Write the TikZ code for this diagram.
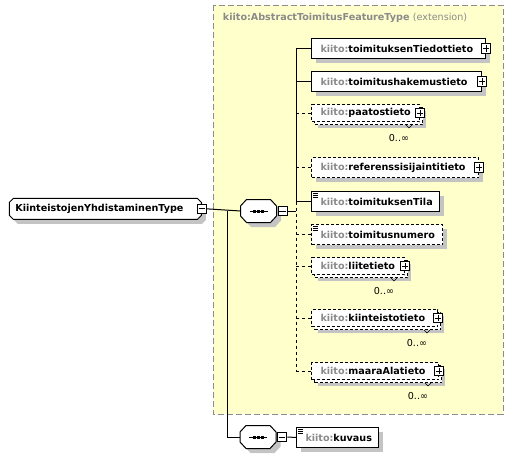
\documentclass[tikz,border=0pt]{standalone}
\usepackage{fontspec}
\setmainfont{DejaVu Sans}
\usetikzlibrary{positioning,calc,shapes.misc,shadows}
\definecolor{extfill}{HTML}{FFFFCC}
\definecolor{extline}{HTML}{8C8C8C}
\definecolor{shadowgray}{HTML}{C4C4C4}
\definecolor{prefixgray}{HTML}{8A8A8A}
\newcommand{\pfx}{\textcolor{prefixgray}{kiito:}}

\tikzset{
  every node/.style={font=\fontsize{7.2}{8.6}\selectfont\bfseries},
  shade/.style={drop shadow={shadow xshift=3.4pt,shadow yshift=-3.4pt,fill=shadowgray,opacity=1}},
  basebox/.style={draw, fill=white, anchor=north west, inner xsep=6.75pt, inner ysep=0pt, align=left},
  elem/.style={basebox, minimum height=15pt, shade},
  optelem/.style={elem, dash pattern=on 2.25pt off 1.5pt},
  multielem/.style={basebox, minimum height=12.75pt, dash pattern=on 2.25pt off 1.5pt,
    drop shadow={shadow xshift=4.9pt,shadow yshift=-4.9pt,fill=shadowgray,opacity=1},
    copy shadow={shadow xshift=2.25pt,shadow yshift=-2.25pt,draw,fill=white}},
  typebox/.style={chamfered rectangle, chamfered rectangle xsep=1.5pt, chamfered rectangle ysep=1.5pt,
    draw, fill=white, anchor=north west, minimum height=15.75pt, inner xsep=3pt, inner ysep=0pt, align=left, shade},
  seqbox/.style={minimum width=26.25pt, minimum height=16.5pt, inner sep=0pt},
  minusbox/.style={draw, fill=white, minimum size=7pt, inner sep=0pt,
    path picture={\draw ([xshift=-2.4pt]path picture bounding box.center) -- ([xshift=2.4pt]path picture bounding box.center);}},
  plusbox/.style={draw, fill=white, minimum size=7pt, inner sep=0pt,
    path picture={\draw ([xshift=-2.4pt]path picture bounding box.center) -- ([xshift=2.4pt]path picture bounding box.center);
      \draw ([yshift=-2.4pt]path picture bounding box.center) -- ([yshift=2.4pt]path picture bounding box.center);}},
  mult/.style={anchor=east, font=\fontsize{7.2}{8.6}\selectfont},
  linkopt/.style={dash pattern=on 2.25pt off 2.25pt},
}

\begin{document}
\begin{tikzpicture}[x=0.75pt,y=-0.75pt,line width=0.75pt]
  \useasboundingbox (0,0) rectangle (517,457);

  % extension area
  \draw[extline, fill=extfill, dash pattern=on 4.5pt off 2.25pt] (213,5) rectangle (503,414);
  \node[anchor=west, text=prefixgray] (title) at (218,18) {kiito:AbstractToimitusFeatureType \mdseries(extension)};

  \node[typebox, text width=135pt] (ktype) at (11,200) {KiinteistojenYhdistaminenType};
  \node[minusbox] (mk) at (ktype.east) {};

  \node[seqbox] (seqa) at (258.5,211) {};
  \node[seqbox] (seqb) at (258,437) {};
  % sequence symbol
  \foreach \s in {seqa,seqb} {
    \draw[fill=white, shade] ($(\s.north west)+(6,0)$) -- ($(\s.north east)+(-6,0)$) -- ($(\s.east)+(0,-5)$)
      -- ($(\s.east)+(0,5)$) -- ($(\s.south east)+(-6,0)$) -- ($(\s.south west)+(6,0)$)
      -- ($(\s.west)+(0,5)$) -- ($(\s.west)+(0,-5)$) -- cycle;
    \draw ($(\s.center)+(-9,0)$) -- ($(\s.center)+(9,0)$);
    \foreach \dx in {-4,0,4}
      \fill ($(\s.center)+(\dx,0)$) +(-1.5,-1.5) rectangle +(1.5,1.5);
  }
  \node[minusbox, anchor=west] (ma) at ([xshift=0.75pt]seqa.east) {};
  \node[minusbox, anchor=west] (mb) at ([xshift=0.75pt]seqb.east) {};

  \node[elem, text width=117pt] (tiedot) at (311,38) {\pfx toimituksenTiedottieto};
  \node[elem, text width=114pt] (hakemus) at (311,71) {\pfx toimitushakemustieto};
  \node[multielem, text width=67.5pt] (paatos) at (311,104) {\pfx paatostieto};
  \node[optelem, text width=111.75pt] (referens) at (311,157) {\pfx referenssisijaintitieto};
  \node[elem, text width=82.5pt] (tila) at (311,191) {\pfx toimituksenTila};
  \node[optelem, text width=84.75pt] (numero) at (311,224) {\pfx toimitusnumero};
  \node[multielem, text width=56.25pt] (liite) at (311,257) {\pfx liitetieto};
  \node[multielem, text width=81pt] (kiint) at (311,309) {\pfx kiinteistotieto};
  \node[multielem, text width=81.75pt] (maara) at (311,362) {\pfx maaraAlatieto};
  \node[elem, text width=48pt] (kuvaus) at (296,427) {\pfx kuvaus};

  % connectors
  \coordinate (split) at (227,211);
  \coordinate (trunk) at (296,211);
  \draw (mk.east) -- (seqa.west);
  \draw (split) |- (seqb.west);
  \draw (ma.east) -- (trunk);
  \draw (trunk |- tiedot.west) -- (trunk |- tila.west);
  \draw[linkopt] (trunk |- tila.west) -- (trunk |- maara.west);
  \foreach \n in {tiedot,hakemus,tila}
    \draw (trunk |- \n.west) -- (\n.west);
  \foreach \n in {paatos,referens,numero,liite,kiint,maara}
    \draw[linkopt] (trunk |- \n.west) -- (\n.west);
  \draw (mb.east) -- (kuvaus.west);

  \foreach \n in {tiedot,hakemus,paatos,referens,liite,kiint,maara}
    \node[plusbox] (\n-plus) at (\n.east) {};
  \foreach \n in {paatos,liite,kiint,maara} {
    \node[mult] (\n-mult) at ([shift={(-6,16)}]\n.south east) {0..∞};
    \draw[line width=0.5pt] ([shift={(-14,3)}]\n.south east) -- ++(3,3) -- ++(3,-3);
  }
  % simple content marks
  \foreach \n in {tila,numero,kuvaus}
    \foreach \d in {2,4,6}
      \draw ([shift={(2,\d)}]\n.north west) -- ++(5,0);
\end{tikzpicture}
\end{document}
